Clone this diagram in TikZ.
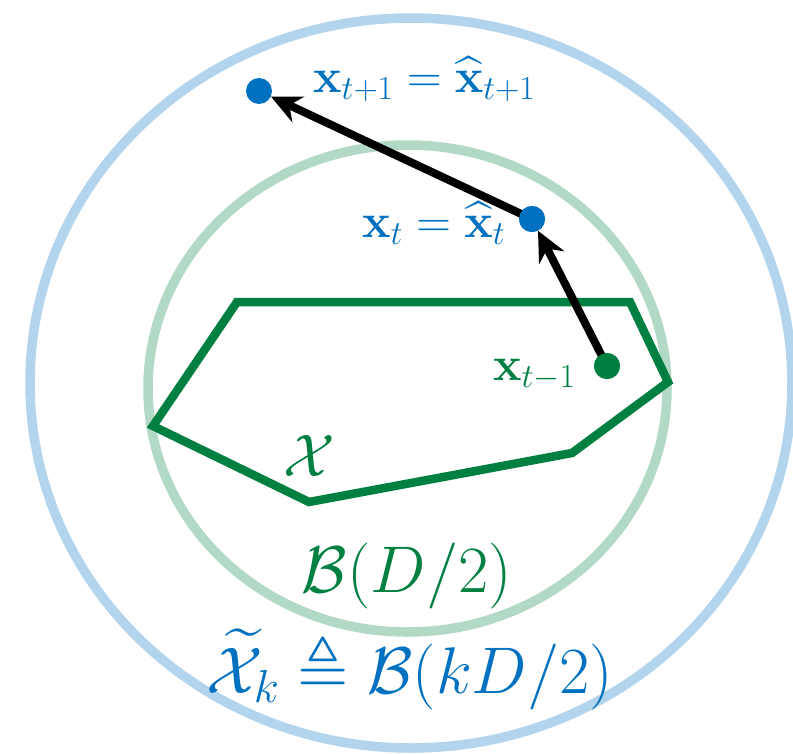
\RequirePackage{fix-cm}
\documentclass[tikz,border=0pt]{standalone}
\usepackage{amsmath,amssymb}
\DeclareFontFamily{U}{msa}{}
\DeclareFontShape{U}{msa}{m}{n}{<-6> msam5 <6-8> msam7 <8-> msam10}{}
\usetikzlibrary{arrows.meta}
\definecolor{cblue}{RGB}{0,112,192}
\definecolor{cgreen}{RGB}{0,128,64}
\colorlet{lblue}{cblue!30!white}
\colorlet{lgreen}{cgreen!30!white}
\tikzset{
  dotnode/.style={circle,fill=#1,minimum size=26pt,inner sep=0pt},
  arr/.style={line width=8pt,-{Stealth[length=30pt,width=28pt]}},
  smalllab/.style={font=\fontsize{48}{56}\selectfont,inner sep=0pt},
  biglab/.style={font=\fontsize{66}{78}\selectfont,inner sep=0pt},
}
\begin{document}
\begin{tikzpicture}[x=1pt,y=-1pt]
\useasboundingbox (0,0) rectangle (793,753);
% circles
\path[draw=lblue,line width=9.5pt] (411,383) ellipse [x radius=381,y radius=365];
\path[draw=lgreen,line width=9.5pt] (407.5,388.5) ellipse [x radius=259.5,y radius=243.5];
% polygon
\draw[cgreen,line width=8.5pt,line join=miter] (237,302) -- (630,302) -- (668,382) -- (572,453) -- (309,502) -- (153,426) -- cycle;
% dots
\node[dotnode=cblue] (b1) at (259,91) {};
\node[dotnode=cblue] (b0) at (532,219) {};
\node[dotnode=cgreen] (g) at (607,366) {};
% arrows
\draw[arr] (g.center) -- (b0);
\draw[arr] (b0.center) -- (b1);
\node[dotnode=cblue] at (b0) {};
\node[dotnode=cgreen] at (g) {};
% labels
\node[smalllab,text=cblue,anchor=base west] (l1) at (313,92) {$\mathbf{x}_{t+1}=\widehat{\mathbf{x}}_{t+1}$};
\node[smalllab,text=cblue,anchor=base west] (l0) at (362,237) {$\mathbf{x}_{t}=\widehat{\mathbf{x}}_{t}$};
\node[smalllab,text=cgreen,anchor=base west] (lg) at (493,380) {$\mathbf{x}_{t-1}$};
\node[font=\fontsize{60}{72}\selectfont,inner sep=0pt,text=cgreen,anchor=base west] (lx) at (283,476) {$\mathcal{X}$};
\node[biglab,text=cgreen,anchor=base] (lb) at (407,592) {$\mathcal{B}(D/2)$};
\node[biglab,text=cblue,anchor=base] (lk) at (410,693) {$\widetilde{\mathcal{X}}_k\triangleq\mathcal{B}(kD/2)$};
\end{tikzpicture}
\end{document}
